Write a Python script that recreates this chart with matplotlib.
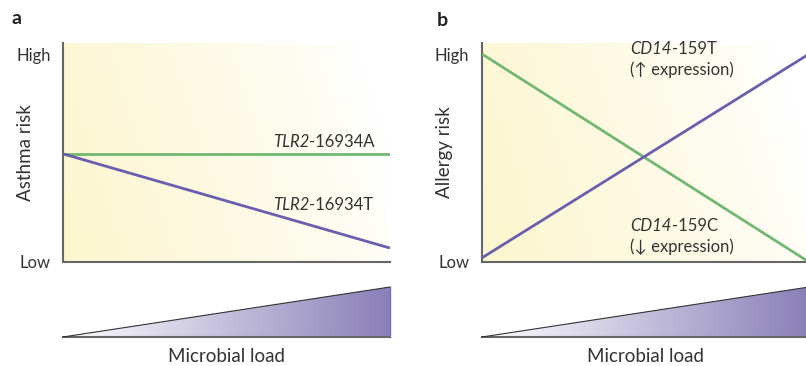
import numpy as np
import matplotlib
matplotlib.use("Agg")
import matplotlib.pyplot as plt
from matplotlib.colors import LinearSegmentedColormap
from matplotlib.patches import Polygon

plt.rcParams['font.family'] = ['Lato', 'DejaVu Sans']

# data (0 = Low, 1 = High)
microbial_load = [0, 1]
tlr2_A = [0.52, 0.52]
tlr2_T = [0.52, 0.067]
cd14_T = [0.02, 1.0]
cd14_C = [1.0, 0.0]
ramp_x = [0, 1, 1]
ramp_y = [0, 0, 1]
risk_ticks = [0, 1]
risk_labels = ['Low', 'High']

GREEN = '#72b872'
PURPLE = '#6a5fae'
AXC = '#666666'
TXT = '#333333'

W, H = 806, 366
fig = plt.figure(figsize=(W / 100, H / 100), dpi=100)


def px_axes(left, top, right, bottom):
    return fig.add_axes([left / W, 1 - bottom / H, (right - left) / W, (bottom - top) / H])


def background(ax):
    xx, yy = np.meshgrid(np.linspace(0, 1, 200), np.linspace(0, 1, 120))
    w = np.clip(1.05 - (0.95 * xx + 0.2 * yy), 0, 1) ** 0.8
    yellow = np.array([252, 246, 208]) / 255
    img = 1 - w[..., None] * (1 - yellow)
    ax.imshow(img, extent=[0, 1, 0, 1], origin='lower', aspect='auto',
              transform=ax.transAxes, zorder=0)


def risk_panel(left, right, ylabel):
    ax = px_axes(left, 43, right, 262)
    background(ax)
    ax.set_xlim(0, 1)
    ax.set_ylim(0, 1.053)
    for s in ['top', 'right']:
        ax.spines[s].set_visible(False)
    for s in ['left', 'bottom']:
        ax.spines[s].set_color(AXC)
        ax.spines[s].set_linewidth(1.5)
    ax.set_xticks([])
    ax.set_yticks(risk_ticks)
    ax.set_yticklabels(risk_labels, fontsize=12, color=TXT)
    ax.tick_params(axis='y', length=0, pad=9)
    ax.set_ylabel(ylabel, fontsize=13.5, color=TXT)
    ax.yaxis.label.set_va('center')
    ax.yaxis.set_label_coords(-0.116, 0.5)
    return ax


def ramp_panel(left, right):
    ax = px_axes(left, 287, right, 337)
    ax.set_xlim(0, 1)
    ax.set_ylim(0, 1)
    ax.axis('off')
    cmap = LinearSegmentedColormap.from_list('ramp', ['#ffffff', '#8a7fb8'])
    im = ax.imshow(np.linspace(0, 1, 256)[None, :], cmap=cmap, extent=[0, 1, 0, 1],
                   aspect='auto', zorder=1)
    tri = Polygon(list(zip(ramp_x, ramp_y)), closed=True, facecolor='none',
                  edgecolor='none', transform=ax.transData)
    ax.add_patch(tri)
    im.set_clip_path(tri)
    ax.plot(ramp_x[:2], ramp_y[:2], color=AXC, lw=1.5, zorder=3, clip_on=False)
    ax.plot(ramp_x[1:], ramp_y[1:], color='#7a70a8', lw=1, zorder=3, clip_on=False)
    ax.plot([ramp_x[0], ramp_x[2]], [ramp_y[0], ramp_y[2]], color='#333333', lw=0.8,
            zorder=3, clip_on=False)
    ax.text(0.5, -0.38, 'Microbial load', ha='center', va='center', fontsize=13.5,
            color=TXT, transform=ax.transAxes)
    return ax


def gene_label(ax, x, y, gene, rest, second=None):
    t = ax.text(x, y, gene, style='italic', fontsize=12, color=TXT, va='baseline')
    ax.annotate(rest, xy=(1, 0), xycoords=t, fontsize=12, color=TXT, va='bottom')
    if second:
        ax.text(x, y - 0.1, second, fontsize=12, color=TXT, va='baseline',
                family=['Lato', 'DejaVu Sans'])


# panel a
axa = risk_panel(63, 390, 'Asthma risk')
axa.plot(microbial_load, tlr2_A, color=GREEN, lw=2, solid_capstyle='butt', zorder=3)
axa.plot(microbial_load, tlr2_T, color=PURPLE, lw=2, solid_capstyle='butt', zorder=3)
gene_label(axa, 0.642, 0.553, 'TLR2', '-16934A')
gene_label(axa, 0.642, 0.25, 'TLR2', '-16934T')
ramp_panel(63, 390)

# panel b
axb = risk_panel(482, 809, 'Allergy risk')
axb.plot(microbial_load, cd14_C, color=GREEN, lw=2, solid_capstyle='butt', zorder=3)
axb.plot(microbial_load, cd14_T, color=PURPLE, lw=2, solid_capstyle='butt', zorder=3)
gene_label(axb, 0.453, 1.0, 'CD14', '-159T', '(\u2191 expression)')
gene_label(axb, 0.453, 0.149, 'CD14', '-159C', '(\u2193 expression)')
ramp_panel(482, 809)

fig.text(12 / W, 1 - 24 / H, 'a', fontsize=14, fontweight='bold', color='#222222')
fig.text(437 / W, 1 - 26 / H, 'b', fontsize=14, fontweight='bold', color='#222222')

fig.savefig('out.png', dpi=100)
